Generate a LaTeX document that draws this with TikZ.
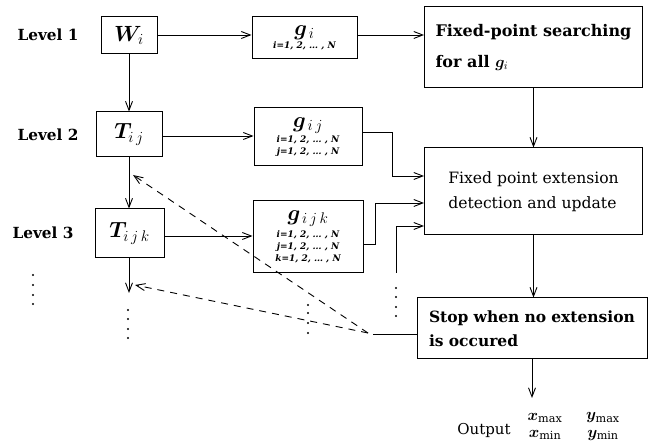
\RequirePackage{fix-cm}
\documentclass[tikz,border=0pt]{standalone}
\usepackage{bm}
\usepackage{fontspec}
\setmainfont{DejaVu Serif}
\usetikzlibrary{arrows.meta,calc}
\begin{document}
\begin{tikzpicture}[x=1pt,y=-1pt,
  box/.style={draw, line width=1pt, inner sep=0pt},
  ln/.style={line width=0.9pt},
  arr/.style={line width=0.9pt, -{Straight Barb[length=9pt,width=7pt,line width=0.9pt]}},
  dsh/.style={arr, dash pattern=on 7pt off 6pt},
  lvl/.style={font=\fontsize{15.3}{17}\selectfont\bfseries},
  bigm/.style={font=\fontsize{22}{24}\selectfont},
  outm/.style={font=\fontsize{16}{17}\selectfont, inner sep=0pt},
  dotc/.style={fill=black, circle, inner sep=0pt, minimum size=2.2pt}
]
\useasboundingbox (0,0) rectangle (648,443);
\newcommand{\smalltxt}{\fontsize{9}{12}\selectfont\bfseries\itshape}
\newcommand{\gsize}{\fontsize{22}{22}\selectfont}

% level labels
\node[lvl] (l1) at (48,35) {Level 1};
\node[lvl] (l2) at (48,135) {Level 2};
\node[lvl] (l3) at (43,233) {Level 3};

% left column
\node[box, bigm, minimum width=56pt, minimum height=37pt] (W) at (129,35.5) {$\bm{W}_{i}$};
\node[box, bigm, minimum width=66pt, minimum height=45pt] (T2) at (129,134.5) {$\bm{T}_{i\,j}$};
\node[box, bigm, minimum width=69pt, minimum height=49pt] (T3) at (129.5,233.5) {$\bm{T}_{i\,j\,k}$};

% g boxes
\node[box, minimum width=105pt, minimum height=42pt, align=center] (gi) at (304.5,38)
  {{\gsize$\bm{g}_{\,i}$}\\[1pt]{\smalltxt i=1, 2, \ldots\ , N}};
\node[box, minimum width=108pt, minimum height=58pt, align=center] (gij) at (308,137)
  {{\gsize$\bm{g}_{\,i\,j}$}\\[1pt]{\smalltxt i=1, 2, \ldots\ , N}\\{\smalltxt j=1, 2, \ldots\ , N}};
\node[box, minimum width=110pt, minimum height=72pt, align=center] (gijk) at (308,237)
  {{\gsize$\bm{g}_{\,i\,j\,k}$}\\[3pt]{\smalltxt i=1, 2, \ldots\ , N}\\{\smalltxt j=1, 2, \ldots\ , N}\\{\smalltxt k=1, 2, \ldots\ , N}};

% right boxes
\node[box, minimum width=218pt, minimum height=81pt, align=left,
  font=\fontsize{16}{31}\selectfont\bfseries] (b1) at (533.5,47.5)
  {Fixed-point searching\\for all $\bm{g}_{i}$};
\node[box, minimum width=218pt, minimum height=87pt, align=left,
  font=\fontsize{15.6}{25}\selectfont] (b2) at (533.5,191.5)
  {Fixed point extension\\detection and update};
\node[box, minimum width=230pt, minimum height=61pt, align=left,
  font=\fontsize{15.5}{24}\selectfont\bfseries, text width=206pt] (stop) at (532,328.5)
  {Stop when no extension\\is occured};

% output
\node[font=\fontsize{15}{17}\selectfont] (out) at (484,430) {Output};
\node[outm] (xmax) at (545,418) {$\bm{x}_{\max}$};
\node[outm] (xmin) at (545,435) {$\bm{x}_{\min}$};
\node[outm] (ymax) at (603,418) {$\bm{y}_{\max}$};
\node[outm] (ymin) at (603,435) {$\bm{y}_{\min}$};

% coordinates
\coordinate (t3end) at (129.5,293);
\coordinate (c1) at (392,132);
\coordinate (c2) at (375,244);
\coordinate (c3s) at (396,273);
\coordinate (oa) at (532,398);
\coordinate (sl) at (373,334);
\coordinate (ds) at (368,333);
\coordinate (d1) at (133,175);
\coordinate (d2) at (135,285);

% connectors
\draw[arr] (W.east |- 0,35) -- (gi.west |- 0,35);
\draw[arr] (gi.east |- 0,35) -- (b1.west |- 0,35);
\draw[arr] (W.south) -- (T2.north);
\draw[arr] (T2.south) -- (T3.north -| T2.south);
\draw[arr] (T2.east |- 0,136) -- (gij.west |- 0,136);
\draw[arr] (T3.east |- 0,236) -- (gijk.west |- 0,236);
\draw[arr] (T3.south -| T2.south) -- (t3end -| T2.south);
\draw[arr] (gij.east |- c1) -- (c1) -- (c1 |- 0,176) -- (b2.west |- 0,176);
\draw[arr] (gijk.east |- c2) -- (c2) -- (c2 |- 0,203) -- (b2.west |- 0,203);
\draw[arr] (c3s) -- (c3s |- 0,226) -- (b2.west |- 0,226);
\draw[arr] (b1.south) -- (b2.north);
\draw[arr] (b2.south) -- (b2.south |- stop.north);
\draw[arr] (stop.south) -- (oa);
\draw[ln] (stop.west |- sl) -- (sl);
\draw[dsh] (ds) -- (d1);
\draw[dsh] (ds) -- (d2);

% dots
\foreach \yy [count=\n] in {275,285,295,304} \node[dotc] (dl\n) at (33,\yy) {};
\foreach \yy [count=\n] in {310,319,329,338} \node[dotc] (dt\n) at (128,\yy) {};
\foreach \yy [count=\n] in {305,313,323,333} \node[dotc] (dm\n) at (308,\yy) {};
\foreach \yy [count=\n] in {288,297,307,316} \node[dotc] (dr\n) at (396,\yy) {};
\end{tikzpicture}
\end{document}
